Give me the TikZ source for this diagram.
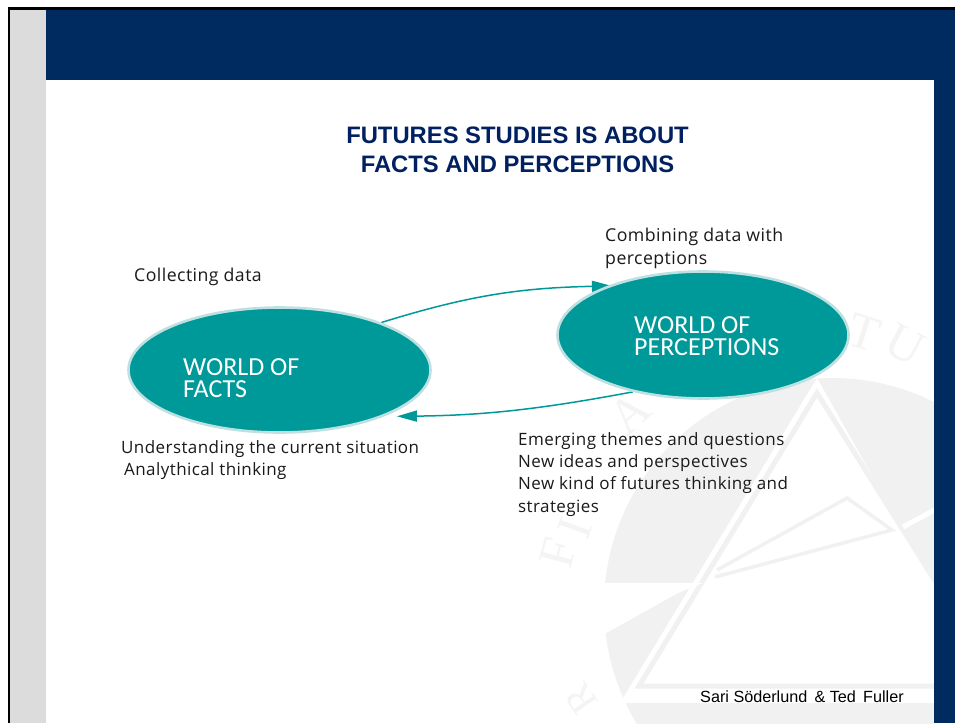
\documentclass[tikz,border=0pt]{standalone}
\usepackage{fontspec}
\usepackage{xcolor}
\usetikzlibrary{arrows.meta,backgrounds,shapes.geometric}
\setmainfont{Liberation Sans}
\newfontfamily\bodyfont[LetterSpace=2.5]{Open Sans}
\newfontfamily\worldfont{Carlito}
\newfontfamily\markfont{Liberation Serif}
\definecolor{slidenavy}{HTML}{002B61}
\definecolor{titlenavy}{HTML}{002060}
\definecolor{stripgray}{HTML}{DCDCDC}
\definecolor{markgray}{HTML}{F1F1F1}
\definecolor{lettergray}{HTML}{F4F4F4}
\definecolor{worldteal}{HTML}{009999}
\definecolor{worldrim}{HTML}{BFE0E0}
\definecolor{bodyink}{HTML}{1A1A1A}

\begin{document}
\begin{tikzpicture}[x=1pt, y=-1pt,
        world/.style={draw=worldrim, fill=worldteal, line width=2.6pt, ellipse, inner sep=0pt},
        worldtext/.style={anchor=north west, inner sep=0pt, align=left, text=white, font=\worldfont\fontsize{26}{22}\selectfont},
        bodytext/.style={anchor=north west, inner sep=0pt, align=left, text=bodyink, font=\bodyfont\fontsize{17}{22.4}\selectfont},
        bigtext/.style={bodytext, font=\bodyfont\fontsize{17.7}{22.4}\selectfont},
        flow/.style={draw=worldteal, line width=1.5pt, -{Triangle[length=20pt, width=11pt]}},
        markletter/.style={inner sep=0pt, text=lettergray, font=\markfont\fontsize{50}{50}\selectfont}]
    \useasboundingbox (0,0) rectangle (955,723);

    \node[world, minimum width=302pt, minimum height=125pt] (facts) at (279.5,370) {};
    \node[world, minimum width=291pt, minimum height=127pt] (perceptions) at (703,335) {};
    \node[worldtext] (factstext) at (183,358.5) {WORLD OF\\FACTS};
    \node[worldtext] (perceptionstext) at (634,316) {WORLD OF\\PERCEPTIONS};

    \node[anchor=north, inner sep=0pt, align=center, text=titlenavy, font=\bfseries\fontsize{23.8}{29}\selectfont] (title) at (517.5,126.5) {FUTURES STUDIES IS ABOUT\\FACTS AND PERCEPTIONS};
    \node[bigtext] (collecting) at (134,267.5) {Collecting data};
    \node[bigtext] (combining) at (605,228) {Combining data with\\perceptions};
    \node[bodytext] (understanding) at (121,440) {Understanding the current situation\\\hspace{3pt}Analythical thinking};
    \node[bodytext] (emerging) at (518,432) {Emerging themes and questions\\New ideas and perspectives\\New kind of futures thinking and\\strategies};
    \node[anchor=base west, inner sep=0pt, text=black, font=\fontsize{16.2}{18}\selectfont] (authors) at (700,702) {Sari Söderlund \,\& Ted \,Fuller};

    \begin{scope}[on background layer]
        % slide
        \fill[black] (7.5,7) rectangle (955,723);
        \fill[white] (10,9.5) rectangle (955,723);
        \fill[stripgray] (10,9.5) rectangle (46,723);
        \fill[white] (46,80) rectangle (934,723);

        % watermark
        \begin{scope}
            \clip (46,80) rectangle (934,723);
            \fill[markgray] (832,606) circle (228);
            \fill[white] (817,378) -- (1000,703) -- (620,703) -- cycle;
            \draw[markgray, line width=5pt, fill=white] (817,393) -- (1001,686) -- (639,686) -- cycle;
            \fill[white] (595,583) -- (703,583) -- (678,593) -- (608,632) -- (595,640) -- cycle;
            \draw[markgray, line width=3.5pt] (717,570) -- (847,498) -- (892,530) -- (715,577);
            \draw[white, line width=5pt] (903,527) -- (940,507);
            \node[markletter, rotate=75] (markf) at (558,553) {F};
            \node[markletter, rotate=70] (marki) at (575,528) {I};
            \node[markletter, rotate=42] (marka) at (630,413) {A};
            \node[markletter, rotate=-18] (markt) at (864,333) {T};
            \node[markletter, rotate=-28] (marku) at (905,345) {U};
            \node[markletter, rotate=125, font=\markfont\fontsize{40}{40}\selectfont] (markr) at (581,699) {R};
        \end{scope}

        \fill[slidenavy] (46,9.5) rectangle (955,80);
        \fill[slidenavy] (934,80) rectangle (955,723);

        \draw[flow, shorten >=-5pt] (facts.25) to[bend left=8] (perceptions.153);
        \draw[flow, shorten >=13pt] (perceptions.219) to[bend left=5] (facts.-24);
    \end{scope}
\end{tikzpicture}
\end{document}
